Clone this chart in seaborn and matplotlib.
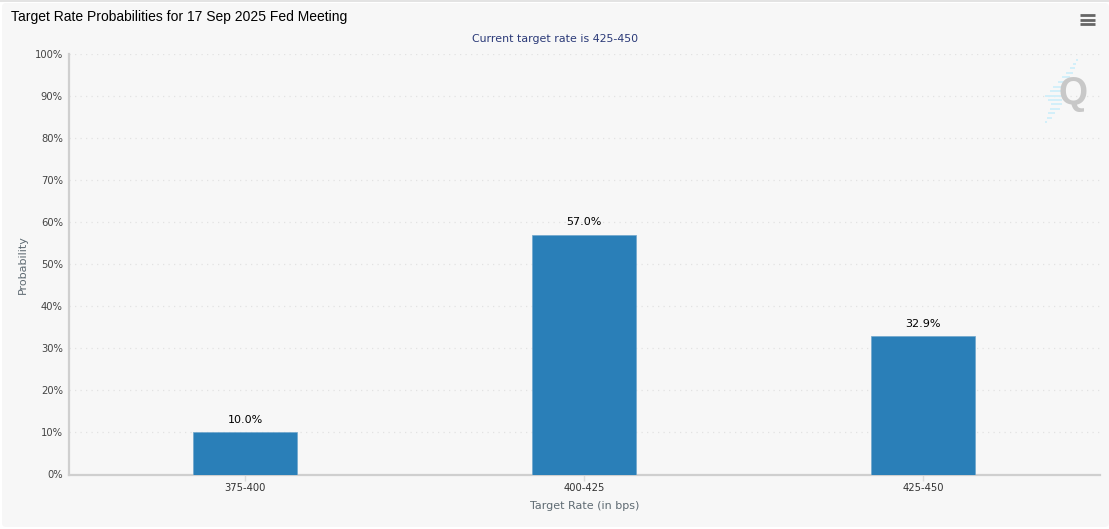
import numpy as np
import pandas as pd
import seaborn as sns
import matplotlib.pyplot as plt
from matplotlib.patches import FancyBboxPatch

target_rates = ["375-400", "400-425", "425-450"]
probabilities = [10.0, 57.0, 32.9]
y_ticks = [0, 10, 20, 30, 40, 50, 60, 70, 80, 90, 100]
y_tick_labels = ["0%", "10%", "20%", "30%", "40%", "50%", "60%", "70%", "80%", "90%", "100%"]

W, H = 1109, 529
BG = "#f7f7f7"
BLUE = "#2a7fb8"

sns.set_theme(style="white")
plt.rcParams["font.family"] = ["DejaVu Sans"]

fig = plt.figure(figsize=(W / 100, H / 100), dpi=100, facecolor="white")

# panel behind the chart, with the thin grey strip along the top
fig.add_artist(plt.Rectangle((0, 1 - 2 / H), 1, 2 / H, transform=fig.transFigure,
                             color="#e3e3e3", lw=0, zorder=-2))
fig.add_artist(FancyBboxPatch((2, 2), W - 2, H - 5, boxstyle="round,pad=0,rounding_size=4",
                              transform=None, fc=BG, ec="none", zorder=-1))

ax = fig.add_axes([69 / W, 1 - 474.5 / H, (1100 - 69) / W, (474.5 - 54) / H])
ax.patch.set_alpha(0)

df = pd.DataFrame({"rate": target_rates, "prob": probabilities})
sns.barplot(data=df, x="rate", y="prob", color=BLUE, saturation=1, width=0.307,
            ax=ax, zorder=3)
for bar in ax.patches:
    bar.set_edgecolor("#6fa6cc")
    bar.set_linewidth(0.5)

ax.set_xlim(-0.519, 2.522)
ax.set_ylim(0, 100)
ax.set_yticks(y_ticks)
ax.set_yticklabels(y_tick_labels)
ax.yaxis.grid(True, color="#e2e2e2", linestyle=(0, (1, 3.4)), linewidth=0.9, zorder=0)
ax.xaxis.grid(False)
ax.set_axisbelow(True)

ax.tick_params(axis="y", length=0, pad=4.5, labelsize=7.2, labelcolor="#444444")
ax.tick_params(axis="x", length=4, width=1, color="#dcdcdc", pad=2, labelsize=7.2,
               labelcolor="#333333", bottom=True)

sns.despine(ax=ax, right=True, top=True)
ax.spines["left"].set_color("#cfcfcf")
ax.spines["left"].set_linewidth(1.6)
ax.spines["bottom"].set_color("#cfcfcf")
ax.spines["bottom"].set_linewidth(1.6)

ax.set_xlabel("Target Rate (in bps)", fontsize=8, color="#5f6b73", labelpad=6)
ax.set_ylabel("Probability", fontsize=8, color="#5f6b73", labelpad=5)

for i, value in enumerate(probabilities):
    ax.annotate(f"{value:.1f}%", (i, value), xytext=(0, 5.5), textcoords="offset points",
                ha="center", va="bottom", fontsize=8, color="black")

fig.text(11 / W, 1 - 17.5 / H, "Target Rate Probabilities for 17 Sep 2025 Fed Meeting",
         family="Liberation Sans", fontsize=10.0, color="black", ha="left", va="center")
fig.text(555 / W, 1 - 38.5 / H, "Current target rate is 425-450", fontsize=7.9,
         color="#2b3a78", ha="center", va="center")

# hamburger menu
for y in (15, 19.5, 24):
    fig.add_artist(plt.Line2D([1080 / W, 1095 / W], [1 - y / H, 1 - y / H], color="#666666",
                              lw=2, solid_capstyle="butt"))

# watermark: pale streaks with a grey Q on top
streak_rows = [(60, 1076, 1078), (64, 1073, 1076), (68, 1070, 1075), (73, 1066, 1073),
               (77, 1062, 1070), (82, 1058, 1068), (87, 1053, 1062), (91, 1050, 1062),
               (96, 1045, 1062), (100, 1048, 1062), (104, 1051, 1062), (109, 1050, 1060),
               (113, 1048, 1055), (118, 1047, 1052), (122, 1045, 1047)]
for y, x0, x1 in streak_rows:
    fig.add_artist(plt.Line2D([x0 / W, x1 / W], [1 - y / H, 1 - y / H], color="#d3effa",
                              lw=1.4, solid_capstyle="butt"))
fig.text(1073.5 / W, 1 - 94 / H, "Q", family="Liberation Sans", fontweight="bold", fontsize=27,
         color="#c8c8c8", ha="center", va="center")

fig.savefig("out.png", dpi=100, facecolor="white")
